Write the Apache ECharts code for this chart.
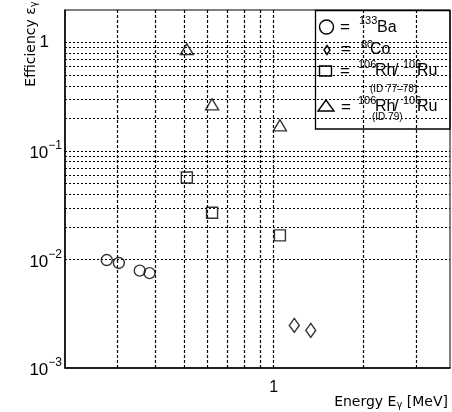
<!DOCTYPE html>
<html><head><meta charset="utf-8">
<script src="https://cdn.jsdelivr.net/npm/echarts@6/dist/echarts.min.js"></script>
<style>html,body{margin:0;padding:0;background:#fff}#c{width:452px;height:412px}</style>
</head><body><div id="c"></div>
<script>
// ---- data ----
const baEnergy = [0.276, 0.303, 0.356, 0.384];
const baEff = [0.0099, 0.0093, 0.0079, 0.0075];
const coEnergy = [1.173, 1.332];
const coEff = [0.00247, 0.00222];
const rhEnergy = [0.512, 0.622, 1.05];
const rhEff7778 = [0.057, 0.027, 0.0167];
const rhEff79 = [0.87, 0.27, 0.173];
// grid line values (log decades with 2..9 subdivisions)
const hGridValues = [0.002,0.003,0.004,0.005,0.006,0.007,0.008,0.009,
  0.01,0.02,0.03,0.04,0.05,0.06,0.07,0.08,0.09,
  0.1,0.2,0.3,0.4,0.5,0.6,0.7,0.8,0.9,1];
const vGridValues = [0.3,0.4,0.5,0.6,0.7,0.8,0.9,1,2,3];
const xTickLabels = ['1'];

const FONT = 'Liberation Sans';
const zip = (a, b) => a.map((v, i) => [v, b[i]]);

const chart = echarts.init(document.getElementById('c'), null, {renderer: 'canvas'});

const hLineStyle = {color: '#000', width: 1, type: [2, 2]};
const vLineStyle = {color: '#000', width: 1.2, type: [3, 2]};
const markLines = {
  silent: true, symbol: ['none', 'none'], animation: false,
  label: {show: false},
  data: hGridValues.map(v => ({yAxis: v, lineStyle: hLineStyle}))
    .concat(vGridValues.map(v => ({xAxis: v, lineStyle: vLineStyle})))
};

const mk = {color: 'transparent', borderColor: '#000', borderWidth: 1.4};

function t(x, y, text, size, extra) {
  return Object.assign({type: 'text', x: x, y: y, silent: true, z: 10,
    style: {text: text, fill: '#000', fontSize: size, fontFamily: FONT,
      align: 'left', verticalAlign: 'middle'}}, extra || {});
}

const option = {
  animation: false,
  backgroundColor: '#fff',
  grid: {left: 65, right: 2, top: 10, bottom: 44, show: true,
    borderColor: '#000', borderWidth: 1, outerBoundsMode: 'none', containLabel: false},
  xAxis: {
    type: 'log', logBase: 10, min: 0.2, max: 3.9,
    axisLine: {show: true, lineStyle: {color: '#000', width: 1.5}},
    axisTick: {show: false},
    splitLine: {show: false},
    axisLabel: {
      margin: 12, color: '#000', fontSize: 16, fontFamily: FONT,
      showMinLabel: true, showMaxLabel: true,
      formatter: v => xTickLabels.includes(String(+v.toPrecision(6))) ? String(+v.toPrecision(6)) : ''
    }
  },
  yAxis: {
    type: 'log', logBase: 10, min: 0.001, max: 2,
    axisLine: {show: true, lineStyle: {color: '#000', width: 1.5}},
    axisTick: {show: false},
    splitLine: {show: false},
    axisLabel: {
      margin: 3, color: '#000', fontFamily: FONT,
      formatter: v => {
        const l = Math.log10(v), e = Math.round(l);
        if (Math.abs(l - e) > 1e-6) return '';
        if (e === 0) return '{one|1}';
        return '{b|10}{s|\u2212' + (-e) + '}';
      },
      rich: {
        one: {fontSize: 17, fontFamily: FONT, color: '#000', padding: [0, 13, 0, 0]},
        b: {fontSize: 17, fontFamily: FONT, color: '#000', verticalAlign: 'bottom'},
        s: {fontSize: 12, fontFamily: FONT, color: '#000', verticalAlign: 'bottom', padding: [0, 0, 10, 0]}
      }
    }
  },
  series: [
    {name: '133Ba', type: 'scatter', symbol: 'circle', symbolSize: 11,
      itemStyle: mk, data: zip(baEnergy, baEff), markLine: markLines, z: 3},
    {name: '60Co', type: 'scatter', symbol: 'diamond', symbolSize: [10, 14],
      itemStyle: mk, data: zip(coEnergy, coEff), z: 3},
    {name: '106Rh/106Ru (ID 77-78)', type: 'scatter', symbol: 'rect', symbolSize: 11,
      itemStyle: mk, data: zip(rhEnergy, rhEff7778), z: 3},
    {name: '106Rh/106Ru (ID 79)', type: 'scatter', symbol: 'triangle', symbolSize: [13, 11],
      itemStyle: mk, data: zip(rhEnergy, rhEff79), z: 3}
  ],
  graphic: [
    // axis titles
    {type: 'text', x: 31, y: 44, rotation: Math.PI / 2, silent: true,
      style: {text: 'Efficiency \u03b5{g|\u03b3}', fill: '#000', fontSize: 14, fontFamily: 'DejaVu Sans',
        align: 'center', verticalAlign: 'middle',
        rich: {g: {fontSize: 10, fontFamily: 'DejaVu Sans', verticalAlign: 'bottom', padding: [6, 0, 0, 0]}}}},
    {type: 'text', x: 448, y: 402, silent: true,
      style: {text: 'Energy E{g|\u03b3} [MeV]', fill: '#000', fontSize: 14, fontFamily: 'DejaVu Sans',
        align: 'right', verticalAlign: 'middle',
        rich: {g: {fontSize: 10, fontFamily: 'DejaVu Sans', verticalAlign: 'top', padding: [6, 0, 0, 0]}}}},
    // legend box
    {type: 'rect', shape: {x: 315.5, y: 10.5, width: 134.5, height: 118.5}, silent: true,
      style: {fill: 'none', stroke: '#000', lineWidth: 1.3}},
    {type: 'circle', shape: {cx: 326.5, cy: 27, r: 7}, silent: true,
      style: {fill: 'none', stroke: '#000', lineWidth: 1.4}},
    {type: 'polygon', shape: {points: [[327, 45.5], [330, 50], [327, 54.5], [324, 50]]}, silent: true,
      style: {fill: 'none', stroke: '#000', lineWidth: 1.4}},
    {type: 'rect', shape: {x: 319.5, y: 66, width: 12, height: 10}, silent: true,
      style: {fill: 'none', stroke: '#000', lineWidth: 1.4}},
    {type: 'polygon', shape: {points: [[326, 100], [334, 111], [318, 111]]}, silent: true,
      style: {fill: 'none', stroke: '#000', lineWidth: 1.4}},
    t(340, 27, '=', 17), t(359, 21, '133', 11), t(377, 28, 'Ba', 16),
    t(341, 49, '=', 17), t(361, 45, '60', 11), t(370, 50, 'Co', 16),
    t(340, 71, '=', 17), t(358, 65, '106', 11), t(375, 71, 'Rh', 16), t(394, 71, '/', 16),
    t(403, 65, '106', 11), t(417, 71, 'Ru', 16), t(370, 89, '(ID 77\u201378)', 10),
    t(341, 107, '=', 17), t(358, 101, '106', 11), t(375, 107, 'Rh', 16), t(394, 107, '/', 16),
    t(403, 101, '106', 11), t(417, 107, 'Ru', 16), t(372, 117, '(ID 79)', 10)
  ]
};
chart.setOption(option);
</script></body></html>
